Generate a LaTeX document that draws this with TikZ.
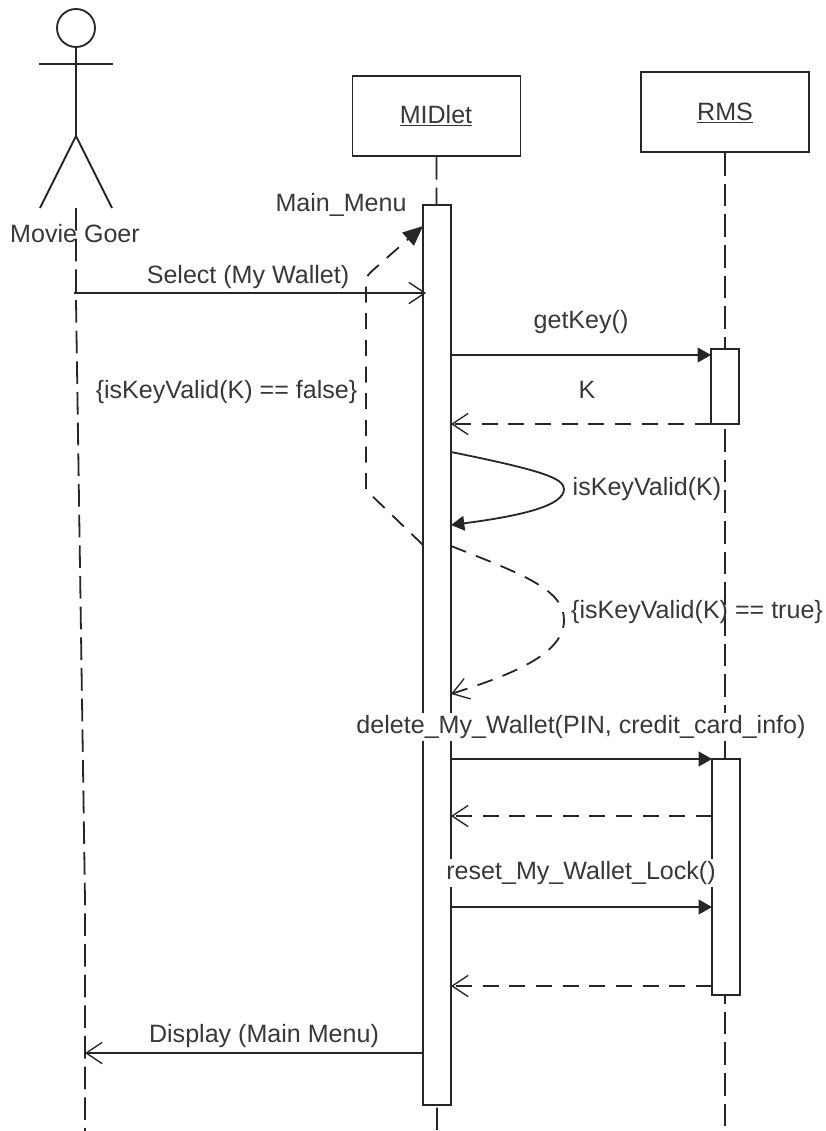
\documentclass[tikz,border=0pt]{standalone}
\usepackage{fontspec}
\setmainfont{Liberation Sans}
\usetikzlibrary{arrows.meta}
\tikzset{
  x=0.75pt,y=-0.75pt,
  ln/.style={line width=1.35pt,black!85},
  lifeline/.style={ln,dash pattern=on 17pt off 6pt},
  dashln/.style={ln,dash pattern=on 12pt off 8pt},
  obj/.style={draw=black!85,line width=1.35pt,fill=white,rectangle,minimum width=126pt,minimum height=60pt,inner sep=0pt},
  act/.style={draw=black!85,line width=1.35pt,fill=white,rectangle,minimum width=21pt,inner sep=0pt},
  lbl/.style={font=\fontsize{18.8}{22}\selectfont,text=black!78,inner sep=0pt},
  masked/.style={lbl,fill=white,inner ysep=2pt,inner xsep=1pt},
  open/.style={-{Straight Barb[length=12pt,width=16pt,line width=1pt]}},
  solidtip/.style={-{Triangle[length=10pt,width=11pt]}},
}
\begin{document}
\begin{tikzpicture}
\useasboundingbox (0,0) rectangle (825,1131);
% lifeline ends
\coordinate (atop) at (76,208);
\coordinate (abend) at (76,300);
\coordinate (abend2) at (85,900);
\coordinate (abot) at (85,1131);
\coordinate (mbot) at (437,1131);
\coordinate (rbot) at (725,1131);
% objects
\node[obj] (midlet) at (436.5,116) {};
\node[obj] (rms) at (725,112) {};
% lifelines
\draw[lifeline] (atop) -- (abend) -- (abend2) -- (abot);
\draw[lifeline] (midlet.south) -- (mbot);
\draw[lifeline] (rms.south) -- (rbot);
% actor
\node[circle,draw=black!85,line width=1.35pt,minimum size=28.5pt,inner sep=0pt] (head) at (76,28) {};
\coordinate (hip) at (76,136);
\coordinate (armL) at (39,64);
\coordinate (armR) at (113,64);
\coordinate (footL) at (40,208);
\coordinate (footR) at (112,208);
\draw[ln] (head.south) -- (hip);
\draw[ln] (armL) -- (armR);
\draw[ln] (footL) -- (hip) -- (footR);
\node[lbl] (actor) at (75,234) {Movie Goer};
% activations
\node[act,minimum height=675pt] (ma) at (437,655) {};
\node[act,minimum height=56.25pt] (ra1) at (725,386.5) {};
\node[act,minimum height=177pt] (ra2) at (726,877) {};
\node[lbl] (objm) at (436,116) {\underline{MIDlet}};
\node[lbl] (objr) at (725,113) {\underline{RMS}};
% message anchors
\coordinate (selA) at (74,293);   \coordinate (selB) at (426,293);
\coordinate (keyA) at (451,355);  \coordinate (keyB) at (711,355);
\coordinate (kA) at (711,424);    \coordinate (kB) at (451,424);
\coordinate (selfA) at (451,452); \coordinate (selfB) at (451,525);
\coordinate (trueA) at (451,546); \coordinate (trueB) at (451,694);
\coordinate (falseA) at (423,545); \coordinate (falseB) at (423,226);
\coordinate (delA) at (451,759);  \coordinate (delB) at (712,759);
\coordinate (ret1A) at (712,816); \coordinate (ret1B) at (451,816);
\coordinate (resA) at (451,907);  \coordinate (resB) at (712,907);
\coordinate (ret2A) at (712,986); \coordinate (ret2B) at (451,986);
\coordinate (dispA) at (423,1053); \coordinate (dispB) at (85,1053);
% messages
\draw[ln,open] (selA) -- (selB);
\draw[ln,solidtip] (keyA) -- (keyB);
\draw[dashln,open] (kA) -- (kB);
\draw[ln,solidtip] (selfA) .. controls (540,470) and (564,478) .. (564,489) .. controls (564,506) and (520,516) .. (selfB);
\draw[dashln,open] (trueA) .. controls (525,575) and (564,590) .. (564,620) .. controls (564,655) and (510,675) .. (trueB);
\draw[dashln,-{Triangle[length=15pt,width=13pt]}] (falseA) -- (366,490) -- (366,285) .. controls (366,277) .. (372,271) -- (falseB);
\draw[ln,solidtip] (delA) -- (delB);
\draw[dashln,open] (ret1A) -- (ret1B);
\draw[ln,solidtip] (resA) -- (resB);
\draw[dashln,open] (ret2A) -- (ret2B);
\draw[ln,open] (dispA) -- (dispB);
% labels
\node[lbl] (l1) at (341,205) {Main\_Menu};
\node[lbl] (l2) at (248,277) {Select (My Wallet)};
\node[lbl] (l3) at (581,322) {getKey()};
\node[lbl] (l4) at (587,390) {K};
\node[lbl] (l5) at (226.5,392) {\{isKeyValid(K) == false\}};
\node[lbl] (l6) at (647,489) {isKeyValid(K)};
\node[lbl] (l7) at (697,612) {\{isKeyValid(K) == true\}};
\node[masked] (l8) at (581,727) {delete\_My\_Wallet(PIN, credit\_card\_info)};
\node[masked] (l9) at (581,873) {reset\_My\_Wallet\_Lock()};
\node[lbl] (l10) at (264,1036) {Display (Main Menu)};
\end{tikzpicture}
\end{document}
